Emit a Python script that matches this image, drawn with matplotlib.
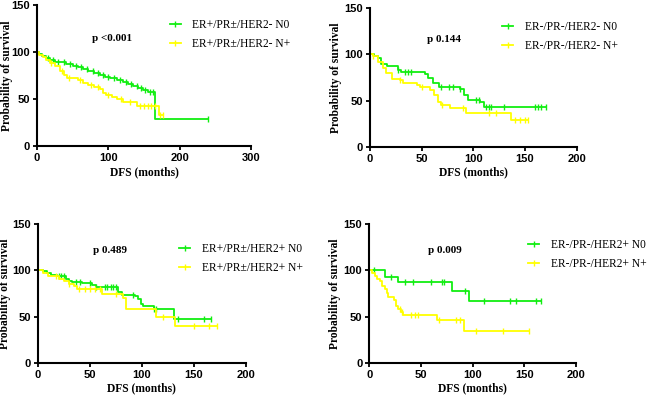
import numpy as np
import matplotlib
matplotlib.use("Agg")
import matplotlib.pyplot as plt

# -----------------------------
# Kaplan-Meier step data (time in months, survival in %)
# -----------------------------
# panel 1: ER+/PR±/HER2-
p1_n0_t = [0, 3, 7, 12, 18, 25, 33, 41, 50, 58, 65, 72, 80, 88, 95, 103, 112, 120, 128, 135, 142, 149, 155, 165, 240]
p1_n0_s = [100, 98, 96, 94, 92, 90, 89, 87, 85, 84, 82, 80, 78, 76, 74, 72, 70, 68, 66, 64, 62, 60, 58, 29, 29]
p1_n0_c = [15, 22, 30, 38, 46, 55, 62, 70, 78, 86, 92, 100, 108, 116, 125, 132, 140, 146, 152, 158, 162, 240]
p1_np_t = [0, 3, 8, 12, 18, 25, 32, 38, 42, 50, 58, 65, 72, 80, 88, 93, 97, 105, 112, 121, 140, 171, 177]
p1_np_s = [100, 97, 95, 92, 88, 85, 80, 76, 73, 72, 70, 67, 65, 63, 61, 57, 54, 52, 50, 47, 43, 33, 33]
p1_np_c = [20, 35, 45, 60, 75, 85, 100, 118, 130, 145, 150, 155, 160, 165, 173, 177]

# panel 2: ER-/PR-/HER2-
p2_n0_t = [0, 4, 8, 11, 17, 27, 30, 53, 56, 61, 67, 87, 91, 95, 107, 110, 170]
p2_n0_s = [100, 98, 96, 90, 87, 83, 81, 79, 74, 69, 65, 63, 56, 51, 49, 43, 43]
p2_n0_c = [27, 34, 37, 40, 69, 77, 80, 87, 103, 106, 112, 115, 117, 130, 160, 163, 166, 170]
p2_np_t = [0, 3, 8, 13, 16, 21, 29, 32, 46, 49, 58, 62, 66, 69, 78, 93, 137, 153]
p2_np_s = [100, 98, 92, 85, 80, 73, 72, 69, 67, 65, 61, 56, 49, 45, 42, 37, 29, 29]
p2_np_c = [3, 29, 50, 70, 90, 115, 122, 140, 145, 150, 153]

# panel 3: ER+/PR±/HER2+
p3_n0_t = [0, 5, 9, 13, 19, 27, 30, 33, 43, 52, 56, 77, 81, 94, 96, 99, 101, 112, 131, 167]
p3_n0_s = [100, 99, 97, 95, 94, 91, 89, 87, 86, 84, 82, 77, 73, 72, 69, 64, 61, 58, 48, 48]
p3_n0_c = [20, 22, 25, 37, 41, 50, 56, 65, 67, 70, 72, 75, 92, 112, 114, 135, 160, 167]
p3_np_t = [0, 5, 10, 20, 25, 30, 35, 38, 62, 82, 85, 114, 132, 172]
p3_np_s = [100, 97, 94, 91, 88, 85, 83, 80, 74, 70, 58, 50, 40, 40]
p3_np_c = [18, 30, 40, 45, 50, 55, 60, 75, 120, 150, 165, 172]

# panel 4: ER-/PR-/HER2+
p4_n0_t = [0, 15, 28, 80, 97, 166]
p4_n0_s = [100, 92.5, 87, 77.5, 67, 67]
p4_n0_c = [5, 21, 35, 42, 60, 70, 72, 93, 111, 136, 142, 161, 166]
p4_np_t = [0, 3, 6, 8, 10, 12, 15, 17, 18, 24, 26, 28, 31, 33, 65, 66, 91, 92, 155]
p4_np_s = [100, 97, 94, 91, 88, 83, 80, 75, 71, 68, 62, 58, 55, 52, 52, 46, 46, 34, 34]
p4_np_c = [30, 32, 40, 44, 47, 68, 84, 88, 103, 129, 155]

labels = [
    ("ER+/PR\u00b1/HER2- N0", "ER+/PR\u00b1/HER2- N+"),
    ("ER-/PR-/HER2- N0", "ER-/PR-/HER2- N+"),
    ("ER+/PR\u00b1/HER2+ N0", "ER+/PR\u00b1/HER2+ N+"),
    ("ER-/PR-/HER2+ N0", "ER-/PR-/HER2+ N+"),
]
pvals = ["p <0.001", "p 0.144", "p 0.489", "p 0.009"]
xmax = [300, 200, 200, 200]

panels = [
    (p1_n0_t, p1_n0_s, p1_n0_c, p1_np_t, p1_np_s, p1_np_c),
    (p2_n0_t, p2_n0_s, p2_n0_c, p2_np_t, p2_np_s, p2_np_c),
    (p3_n0_t, p3_n0_s, p3_n0_c, p3_np_t, p3_np_s, p3_np_c),
    (p4_n0_t, p4_n0_s, p4_n0_c, p4_np_t, p4_np_s, p4_np_c),
]

# -----------------------------
# Layout (figure fractions) and text positions (axes fractions)
# -----------------------------
rects = [
    [0.057, 0.630, 0.329, 0.357],
    [0.569, 0.628, 0.318, 0.352],
    [0.058, 0.081, 0.320, 0.352],
    [0.568, 0.081, 0.318, 0.352],
]
leg_pos = [(0.62, 0.90), (0.64, 0.905), (0.68, 0.865), (0.77, 0.89)]
p_pos = [(0.257, 0.766), (0.275, 0.77), (0.264, 0.81), (0.285, 0.81)]
ylab_x = [-0.113, -0.135, -0.126, -0.135]

GREEN = "#11ee11"
YELLOW = "#ffff00"
SERIF = "Liberation Serif"
SANS = "Liberation Sans"


def step_value(t, s, x):
    i = np.searchsorted(t, x, side="right") - 1
    return np.asarray(s)[i]


def km(ax, t, s, c, color, label):
    ax.step(t, s, where="post", color=color, lw=1.3)
    ax.plot(c, step_value(t, s, c), ls="none", marker="|", ms=4, mew=1.0, color=color)
    ax.plot([], [], color=color, lw=1.3, marker="|", ms=5, mew=1.0, label=label)


fig = plt.figure(figsize=(6.5, 3.95), dpi=100)

for k in range(4):
    ax = fig.add_axes(rects[k])
    t0, s0, c0, t1, s1, c1 = panels[k]
    km(ax, t0, s0, c0, GREEN, labels[k][0])
    km(ax, t1, s1, c1, YELLOW, labels[k][1])

    ax.set_xlim(0, xmax[k])
    ax.set_ylim(0, 150)
    ax.set_xticks(np.arange(0, xmax[k] + 1, 100 if xmax[k] == 300 else 50))
    ax.set_yticks([0, 50, 100, 150])
    for sp in ["top", "right"]:
        ax.spines[sp].set_visible(False)
    for sp in ["left", "bottom"]:
        ax.spines[sp].set_linewidth(1.5)
    ax.tick_params(direction="out", length=3, width=1.3, pad=2)
    for lab in ax.get_xticklabels() + ax.get_yticklabels():
        lab.set_fontfamily(SANS)
        lab.set_fontweight("bold")
        lab.set_fontsize(8)

    ax.set_xlabel("DFS (months)", family=SERIF, weight="bold", fontsize=8.3)
    ax.xaxis.set_label_coords(0.5, -0.14)
    ax.set_ylabel("Probability of survival", family=SERIF, weight="bold", fontsize=8.3)
    ax.yaxis.set_label_coords(ylab_x[k], 0.5)

    ax.text(p_pos[k][0], p_pos[k][1], pvals[k], transform=ax.transAxes,
            family=SERIF, weight="bold", fontsize=8, va="center", ha="left")

    ax.legend(loc="upper left", bbox_to_anchor=leg_pos[k], frameon=False,
              prop={"family": SERIF, "size": 8.3}, handlelength=0.95,
              handletextpad=1.0, labelspacing=0.6, borderaxespad=0, borderpad=0)

fig.savefig("out.png", dpi=100)
